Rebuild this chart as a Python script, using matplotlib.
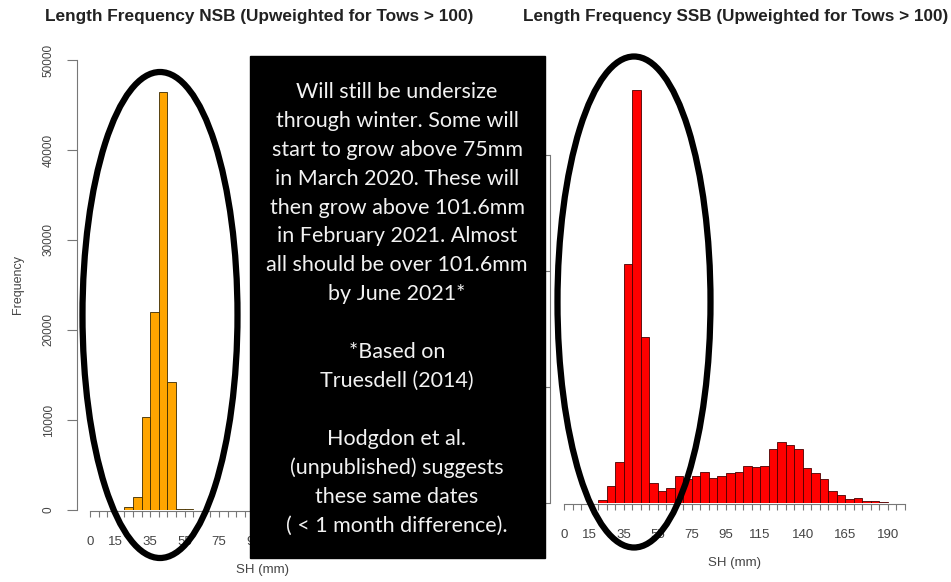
import numpy as np
import matplotlib
matplotlib.use("Agg")
import matplotlib.pyplot as plt
from matplotlib.patches import Ellipse, Rectangle

# bin edges are 5 mm wide
nsb_edges = np.arange(20, 65, 5)
nsb_counts = [300, 1400, 10300, 22000, 46500, 14200, 150, 100]

ssb_edges = np.arange(0, 200, 5)
ssb_counts = [0, 0, 0, 0, 300, 1470, 3530, 20600, 35600, 14300,
              1720, 1030, 1290, 2330, 2070, 2330, 2670, 2160, 2330, 2590,
              2670, 3190, 3100, 3190, 4650, 5260, 5000, 4650, 3020, 2590,
              2070, 1030, 690, 340, 430, 170, 170, 100, 40]

xtick_labels = [0, 15, 35, 55, 75, 95, 115, 140, 165, 190]
nsb_yticks = [0, 10000, 20000, 30000, 40000, 50000]
ssb_yticks = [0, 10000, 20000, 30000]

titles = ["Length Frequency NSB (Upweighted for Tows > 100)",
          "Length Frequency SSB (Upweighted for Tows > 100)"]

note_lines = ["Will still be undersize",
              "through winter. Some will",
              "start to grow above 75mm",
              "in March 2020. These will",
              "then grow above 101.6mm",
              "in February 2021. Almost",
              "all should be over 101.6mm",
              "by June 2021*",
              "",
              "*Based on",
              "Truesdell (2014)",
              "",
              "Hodgdon et al.",
              "(unpublished) suggests",
              "these same dates",
              "( < 1 month difference)."]

W, H = 951, 582
fig = plt.figure(figsize=(W / 100, H / 100), dpi=100)
plt.rcParams['font.family'] = ['Liberation Sans', 'DejaVu Sans']

axis_col = '#777777'
label_col = '#444444'


def panel(spine_px, zero_px, px_per_mm, right_px, base_py, top_py, px_per_unit):
    # place axes so data maps onto reference pixel positions
    left = spine_px / W
    bottom = (H - base_py) / H
    ax = fig.add_axes([left, bottom, (right_px - spine_px) / W, (base_py - top_py) / H])
    ax.set_xlim(-(zero_px - spine_px) / px_per_mm, (right_px - zero_px) / px_per_mm)
    ax.set_ylim(0, (base_py - top_py) / px_per_unit)
    ax.patch.set_visible(False)
    for s in ['top', 'right']:
        ax.spines[s].set_visible(False)
    ax.spines['left'].set_color(axis_col)
    ax.spines['bottom'].set_color(axis_col)
    ax.spines['bottom'].set_position(('outward', 1))
    ax.spines['bottom'].set_bounds(0, 200)
    ticks = np.arange(0, 205, 5)
    ax.set_xticks(ticks)
    ax.set_xticklabels([str(t) if t in xtick_labels else '' for t in ticks])
    ax.tick_params(axis='x', length=4, pad=14, colors=axis_col, labelcolor=label_col,
                   labelsize=9.5, width=0.8)
    ax.tick_params(axis='y', length=7, pad=9, colors=axis_col, labelcolor=label_col,
                   labelsize=8.5, width=0.8)
    return ax


ax1 = panel(77, 90, 1.72, 445, 510, 60, 9.0 / 1000)
ax1.bar(nsb_edges[:-1], nsb_counts, width=5, align='edge', color='#FFA500',
        edgecolor='#3a2a00', linewidth=0.6)
ax1.spines['left'].set_bounds(0, 50000)
ax1.set_yticks(nsb_yticks)
ax1.set_yticklabels([str(v) for v in nsb_yticks], rotation=90, va='center')

ax2 = panel(550, 564, 1.705, 920, 503, 80, 11.6 / 1000)
ax2.bar(ssb_edges[:-1], ssb_counts, width=5, align='edge', color='#FF0000',
        edgecolor='#4a0000', linewidth=0.6)
ax2.spines['left'].set_bounds(0, 30000)
ax2.set_yticks(ssb_yticks)
# these labels sit under the note box in the reference
ax2.set_yticklabels([])

# overlay in pixel coordinates for titles, labels, note box and ellipses
ov = fig.add_axes([0, 0, 1, 1], zorder=10)
ov.set_xlim(0, W)
ov.set_ylim(H, 0)
ov.axis('off')
ov.patch.set_visible(False)

ov.text(259, 16, titles[0], ha='center', va='center', fontsize=12.4,
        fontweight='bold', color='#222222')
ov.text(736, 16, titles[1], ha='center', va='center', fontsize=12.3,
        fontweight='bold', color='#222222')
ov.text(18, 285, 'Frequency', rotation=90, ha='center', va='center',
        fontsize=9, color=label_col)
ov.text(262, 570, 'SH (mm)', ha='center', va='center', fontsize=9.5, color=label_col)
ov.text(735, 563, 'SH (mm)', ha='center', va='center', fontsize=9.5, color=label_col)

ov.add_patch(Ellipse((160, 315), 155, 486, fill=False, lw=4.5, ec='black'))
ov.add_patch(Ellipse((634, 302), 153, 491, fill=False, lw=4.5, ec='black'))

ov.add_patch(Rectangle((250, 56), 295, 502, color='black'))
for i, line in enumerate(note_lines):
    ov.text(397, 92 + i * 28.9, line, ha='center', va='center', fontsize=15.5,
            family=['Lato', 'DejaVu Sans'], color='#f2f2f2')

fig.savefig('out.png', dpi=100)
